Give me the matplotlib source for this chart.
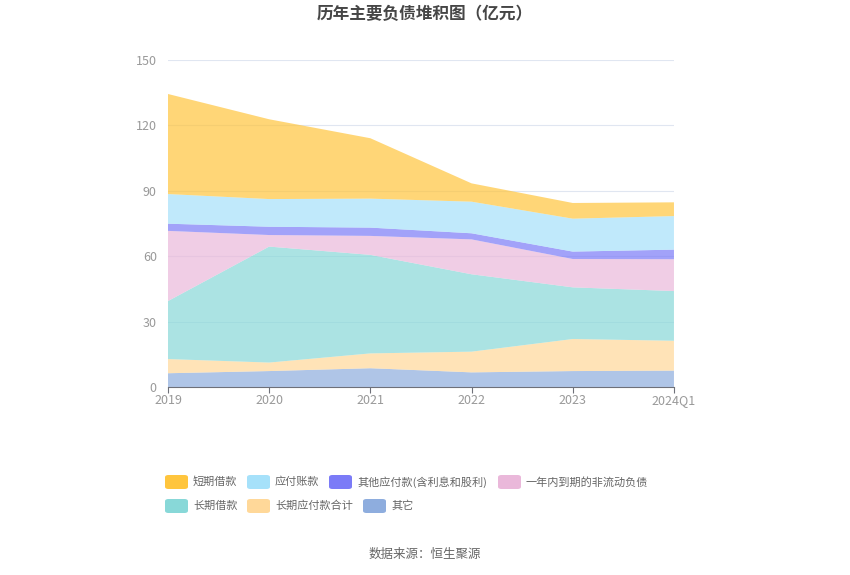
import matplotlib
matplotlib.use("Agg")
import matplotlib.pyplot as plt
from matplotlib.patches import FancyBboxPatch
import numpy as np

plt.rcParams["font.family"] = ["Noto Sans CJK SC", "DejaVu Sans"]

years = ["2019", "2020", "2021", "2022", "2023", "2024Q1"]

# 亿元, bottom series first
other = [6.3, 7.3, 8.6, 6.7, 7.3, 7.5]
long_payable = [6.5, 3.9, 6.8, 9.5, 14.7, 13.7]
long_loan = [26.6, 53.2, 45.2, 35.5, 23.7, 22.8]
current_noncurrent = [32.2, 5.3, 8.7, 16.0, 13.0, 14.6]
other_payable = [3.3, 3.8, 3.8, 2.8, 3.4, 4.4]
accounts_payable = [13.6, 12.7, 13.3, 14.5, 15.1, 15.4]
short_loan = [45.9, 36.6, 27.7, 8.4, 7.2, 6.3]

series = [other, long_payable, long_loan, current_noncurrent,
          other_payable, accounts_payable, short_loan]
names = ["其它", "长期应付款合计", "长期借款", "一年内到期的非流动负债",
         "其他应付款(含利息和股利)", "应付账款", "短期借款"]
colors = ["#8eadde", "#ffd899", "#88d8d8", "#eab8da",
          "#7b7bf7", "#a6e1fa", "#ffc53d"]

fig = plt.figure(figsize=(8.5, 5.75), dpi=100)
ax = fig.add_axes([0.1976, 0.3270, 0.5953, 0.5687])

x = np.arange(len(years))
ax.stackplot(x, *series, colors=colors, alpha=0.7, linewidth=0)

ax.set_xlim(0, len(years) - 1)
ax.set_ylim(0, 150)
ax.set_yticks([0, 30, 60, 90, 120, 150])
ax.set_xticks(x)
ax.set_xticklabels(years)
ax.set_axisbelow(True)
ax.grid(axis="y", color="#e0e6f1", linewidth=0.8)
for s in ["top", "right", "left"]:
    ax.spines[s].set_visible(False)
ax.spines["bottom"].set_color("#6e7079")
ax.spines["bottom"].set_zorder(5)
ax.tick_params(axis="y", length=0, labelcolor="#999999", labelsize=9, pad=8)
ax.tick_params(axis="x", length=4, color="#6e7079", labelcolor="#999999",
               labelsize=9, pad=1)

fig.text(0.5, 0.975, "历年主要负债堆积图（亿元）", ha="center", va="center",
         fontsize=12, fontweight="bold", color="#464646")

# legend, drawn as a flowing layout like the original
legend_items = [
    ("短期借款", "#ffc53d", 165, 482),
    ("应付账款", "#a6e1fa", 247, 482),
    ("其他应付款(含利息和股利)", "#7b7bf7", 329, 482),
    ("一年内到期的非流动负债", "#eab8da", 498, 482),
    ("长期借款", "#88d8d8", 165, 506),
    ("长期应付款合计", "#ffd899", 247, 506),
    ("其它", "#8eadde", 363, 506),
]
W, H = 850.0, 575.0
for label, c, px, py in legend_items:
    box = FancyBboxPatch((px / W, (H - py - 7) / H), 23 / W, 14 / H,
                         boxstyle="round,pad=0,rounding_size=0.004",
                         transform=fig.transFigure, facecolor=c,
                         edgecolor="none")
    fig.patches.append(box)
    fig.text((px + 28) / W, (H - py) / H, label, ha="left", va="center",
             fontsize=8, color="#666666")

fig.text(0.5, 1 - 554 / H, "数据来源：恒生聚源", ha="center", va="center",
         fontsize=9, color="#666666")

fig.savefig("out.png", dpi=100)
